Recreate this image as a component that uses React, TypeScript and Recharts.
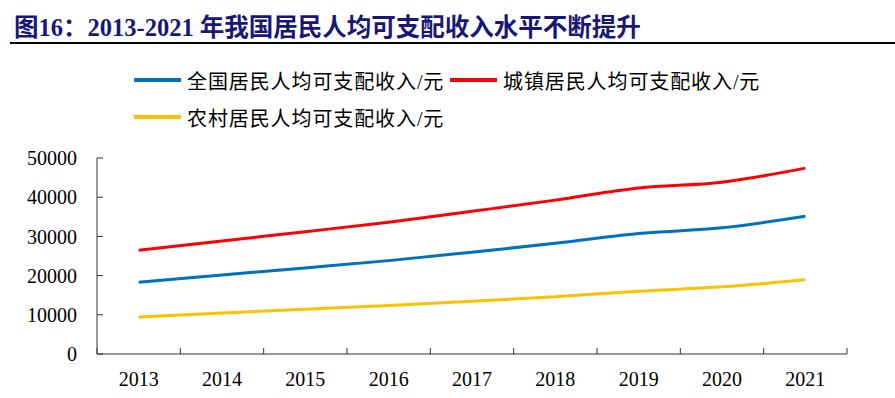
import { Line, LineChart, XAxis, YAxis } from 'recharts';

const years = ['2013', '2014', '2015', '2016', '2017', '2018', '2019', '2020', '2021'];
const national = [18311, 20167, 21966, 23821, 25974, 28228, 30733, 32189, 35128];
const urban = [26467, 28844, 31195, 33616, 36396, 39251, 42359, 43834, 47412];
const rural = [9430, 10489, 11422, 12363, 13432, 14617, 16021, 17131, 18931];
const yTicks = [0, 10000, 20000, 30000, 40000, 50000];

const seriesNames = ['全国居民人均可支配收入/元', '城镇居民人均可支配收入/元', '农村居民人均可支配收入/元'];
const seriesColors = ['#0070C0', '#FF0000', '#FFC000'];

const data = years.map((year, i) => ({
  year,
  national: national[i],
  urban: urban[i],
  rural: rural[i]
}));

const serif = '"Liberation Serif", "Times New Roman", serif';
const cjk = '"Liberation Serif", "Noto Sans CJK SC", serif';

const X_TICK_SIZE = 6;
const X_TICK_MARGIN = 12;

// category label plus the small inward marks on the band edges
function YearTick(props: any) {
  const { x, y, payload, index, visibleTicksCount } = props;
  const half = payload.offset || 0;
  const axisY = y - X_TICK_SIZE - X_TICK_MARGIN;
  const isLast = index === visibleTicksCount - 1;
  return (
    <g>
      <line x1={x - half} x2={x - half} y1={axisY} y2={axisY - 6} stroke="#333" />
      {isLast && <line x1={x + half} x2={x + half} y1={axisY} y2={axisY - 6} stroke="#333" />}
      <text x={x} y={y} dy="0.71em" textAnchor="middle" fontFamily={serif} fontSize={20} fill="#000">
        {payload.value}
      </text>
    </g>
  );
}

function ChartLegend() {
  // two rows, the third item wraps like in the source
  const items = [
    { left: 134, top: 80 },
    { left: 450, top: 80 },
    { left: 134, top: 117 }
  ];
  return (
    <>
      {items.map((pos, i) => (
        <div
          key={seriesNames[i]}
          style={{
            position: 'absolute',
            left: pos.left,
            top: pos.top - 13,
            height: 26,
            display: 'flex',
            alignItems: 'center',
            whiteSpace: 'nowrap'
          }}
        >
          <span
            style={{
              display: 'inline-block',
              width: 47,
              height: 4,
              background: seriesColors[i],
              marginRight: 6
            }}
          />
          <span style={{ fontFamily: cjk, fontSize: 20, letterSpacing: 0.9, color: '#000' }}>
            {seriesNames[i]}
          </span>
        </div>
      ))}
    </>
  );
}

export default function App() {
  return (
    <div style={{ position: 'absolute', left: 0, top: 0, width: 895, height: 398, background: '#fff' }}>
      <LineChart width={895} height={398} data={data} margin={{ top: 158, right: 48, bottom: 0, left: 0 }}>
        <XAxis
          dataKey="year"
          scale="band"
          height={44}
          interval={0}
          tickLine={false}
          tickSize={X_TICK_SIZE}
          tickMargin={X_TICK_MARGIN}
          axisLine={{ stroke: '#333' }}
          tick={<YearTick />}
        />
        <YAxis
          width={97}
          domain={[0, 50000]}
          ticks={yTicks}
          interval={0}
          tickSize={-6}
          tickMargin={26}
          axisLine={{ stroke: '#333' }}
          tickLine={{ stroke: '#333' }}
          tick={{ fontFamily: serif, fontSize: 20, fill: '#000' }}
        />
        <Line type="monotone" dataKey="national" stroke={seriesColors[0]} strokeWidth={3} dot={false} isAnimationActive={false} />
        <Line type="monotone" dataKey="urban" stroke={seriesColors[1]} strokeWidth={3} dot={false} isAnimationActive={false} />
        <Line type="monotone" dataKey="rural" stroke={seriesColors[2]} strokeWidth={3} dot={false} isAnimationActive={false} />
      </LineChart>
      <div
        style={{
          position: 'absolute',
          left: 14,
          top: 8,
          fontFamily: cjk,
          fontWeight: 'bold',
          fontSize: 24.5,
          color: '#17177a',
          whiteSpace: 'nowrap'
        }}
      >
        图16：2013-2021 年我国居民人均可支配收入水平不断提升
      </div>
      <div style={{ position: 'absolute', left: 10, top: 42, width: 885, height: 2, background: '#000' }} />
      <ChartLegend />
    </div>
  );
}
